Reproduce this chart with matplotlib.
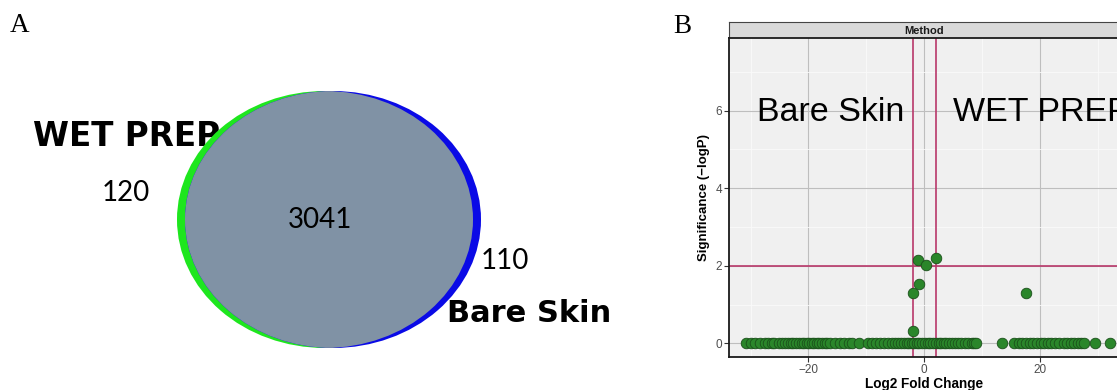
import matplotlib
matplotlib.use("Agg")
import matplotlib.pyplot as plt
from matplotlib.patches import Ellipse
from matplotlib.ticker import MultipleLocator

# ---------------- data ----------------
venn_sets = ["WET PREP", "Bare Skin"]
venn_only_wet = 120
venn_shared = 3041
venn_only_bare = 110

# volcano points: log2 fold change and significance (-logP)
sig_fc = [-2.0, -2.0, -0.8, -1.1, 0.25, 2.0, 17.6]
sig_p = [0.32, 1.31, 1.52, 2.15, 2.02, 2.2, 1.31]
zero_fc = [-30.8, -29.9, -29.3, -28.4, -27.6, -27.0, -26.3, -25.9, -25.1, -24.6,
           -24.0, -23.5, -23.1, -22.6, -22.2, -21.7, -21.2, -20.8, -20.3, -19.9,
           -19.4, -19.0, -18.6, -18.1, -17.7, -17.2, -16.8, -16.2, -15.5, -14.6,
           -13.9, -13.0, -12.4, -11.2, -9.7, -9.0, -8.3, -7.6, -7.0, -6.3,
           -5.6, -5.0, -4.5, -4.0, -3.5, -3.0, -2.6, -2.1, -1.7, -1.2,
           -0.8, -0.3, 0.2, 0.7, 1.1, 1.6, 2.0, 2.5, 2.9, 3.4,
           3.8, 4.3, 4.8, 5.3, 5.9, 6.4, 7.0, 7.6, 8.2, 8.7,
           9.0, 13.5, 15.6, 16.4, 17.0, 17.6, 18.3, 18.9, 19.5, 20.2,
           20.8, 21.4, 22.0, 22.6, 23.4, 24.2, 24.8, 25.4, 26.0, 26.6,
           27.2, 27.7, 29.5, 32.1]
zero_p = [0.0] * len(zero_fc)
fc_cut = 2
p_cut = 2
x_ticks = [-20, 0, 20]
y_ticks = [0, 2, 4, 6]

W, H = 1117, 390
fig = plt.figure(figsize=(W / 100, H / 100), dpi=100)

# ---------------- Panel A: Venn ----------------
aw = 670
axA = fig.add_axes([0, 0, aw / W, 1])
axA.set_xlim(0, aw)
axA.set_ylim(H, 0)
axA.axis("off")

cy = 219.5
ew, eh = 296, 257
green = Ellipse((325, cy), ew, eh, facecolor="#1EE61E", edgecolor="none", zorder=2)
blue = Ellipse((333, cy), ew, eh, facecolor="#0A0AE6", edgecolor="none", zorder=2)
axA.add_patch(green)
axA.add_patch(blue)
gray = Ellipse((325, cy), ew, eh, facecolor="#8092A5", edgecolor="none", zorder=3)
axA.add_patch(gray)
gray.set_clip_path(blue)

axA.text(10, 32, "A", fontsize=19.5, family="Liberation Serif", ha="left",
         va="baseline", zorder=5)
axA.text(33, 146, venn_sets[0], fontsize=23.5, fontweight="bold",
         family="DejaVu Sans", ha="left", va="baseline", zorder=1)
axA.text(447, 322, venn_sets[1], fontsize=22, fontweight="bold",
         family="DejaVu Sans", ha="left", va="baseline", zorder=5)
axA.text(126, 193, str(venn_only_wet), fontsize=20, family="Lato",
         ha="center", va="center", zorder=5)
axA.text(320, 220, str(venn_shared), fontsize=20, family="Lato",
         ha="center", va="center", zorder=5)
axA.text(505, 261, str(venn_only_bare), fontsize=20, family="Lato",
         ha="center", va="center", zorder=5)

fig.text(673 / W, 1 - 33 / H, "B", fontsize=19.5, family="Liberation Serif",
         ha="left", va="baseline")

# ---------------- Panel B: volcano ----------------
left = 729 / W
bottom = 1 - 357 / H
top = 1 - 38 / H
axB = fig.add_axes([left, bottom, 1.002 - left, top - bottom])
axB.set_facecolor("#F0F0F0")
axB.set_xlim(-33.75, 33.75)
axB.set_ylim(-0.35, 7.87)
axB.xaxis.set_major_locator(MultipleLocator(20))
axB.xaxis.set_minor_locator(MultipleLocator(10))
axB.yaxis.set_major_locator(MultipleLocator(2))
axB.yaxis.set_minor_locator(MultipleLocator(1))
axB.set_xticks(x_ticks)
axB.set_yticks(y_ticks)
axB.set_xticklabels(["\u221220", "0", "20"])
axB.grid(which="major", color="#BEBEBE", lw=0.8, zorder=0)
axB.grid(which="minor", color="#FAFAFA", lw=0.6, zorder=0)
axB.set_axisbelow(True)
axB.tick_params(which="major", direction="out", length=3.5, width=0.8,
                color="#333333", labelcolor="#4D4D4D", labelsize=8.5, pad=1.5)
axB.tick_params(which="minor", length=0)
for lbl in axB.get_xticklabels() + axB.get_yticklabels():
    lbl.set_family("Liberation Sans")
for s in ["left", "bottom"]:
    axB.spines[s].set_color("#1A1A1A")
    axB.spines[s].set_linewidth(1.3)
for s in ["right", "top"]:
    axB.spines[s].set_visible(False)

axB.axvline(-fc_cut, color="#B8386A", lw=1.2, zorder=1)
axB.axvline(fc_cut, color="#B8386A", lw=1.2, zorder=1)
axB.axhline(p_cut, color="#B8386A", lw=1.2, zorder=1)

axB.scatter(zero_fc, zero_p, s=58, facecolor="#2A862A", edgecolor="#1A4F1A",
            linewidth=0.6, zorder=3)
axB.scatter(sig_fc, sig_p, s=58, facecolor="#2A862A", edgecolor="#1A4F1A",
            linewidth=0.6, zorder=3)

axB.text(-28.9, 5.94, "Bare Skin", fontsize=24.5, family="Liberation Sans",
         ha="left", va="center", zorder=4)
axB.text(5.0, 5.94, "WET PREP", fontsize=24.5, family="Liberation Sans",
         ha="left", va="center", zorder=4, clip_on=False)

axB.set_xlabel("Log2 Fold Change", fontsize=9.8, fontweight="bold",
               family="Liberation Sans", labelpad=0.5)
axB.set_ylabel("Significance (\u2212logP)", fontsize=9.5, fontweight="bold",
               family="Liberation Sans", labelpad=4)

# strip
sax = fig.add_axes([left, top, 1.002 - left, (38 - 22) / H])
sax.set_facecolor("#D9D9D9")
sax.set_xticks([])
sax.set_yticks([])
for s in ["left", "top", "right"]:
    sax.spines[s].set_color("#444444")
    sax.spines[s].set_linewidth(0.8)
sax.spines["bottom"].set_color("#1A1A1A")
sax.spines["bottom"].set_linewidth(1.3)
sax.text(0.5, 0.45, "Method", transform=sax.transAxes, ha="center", va="center",
         fontsize=8, fontweight="bold", family="Liberation Sans", color="#1A1A1A")

fig.savefig("out.png", dpi=100)
